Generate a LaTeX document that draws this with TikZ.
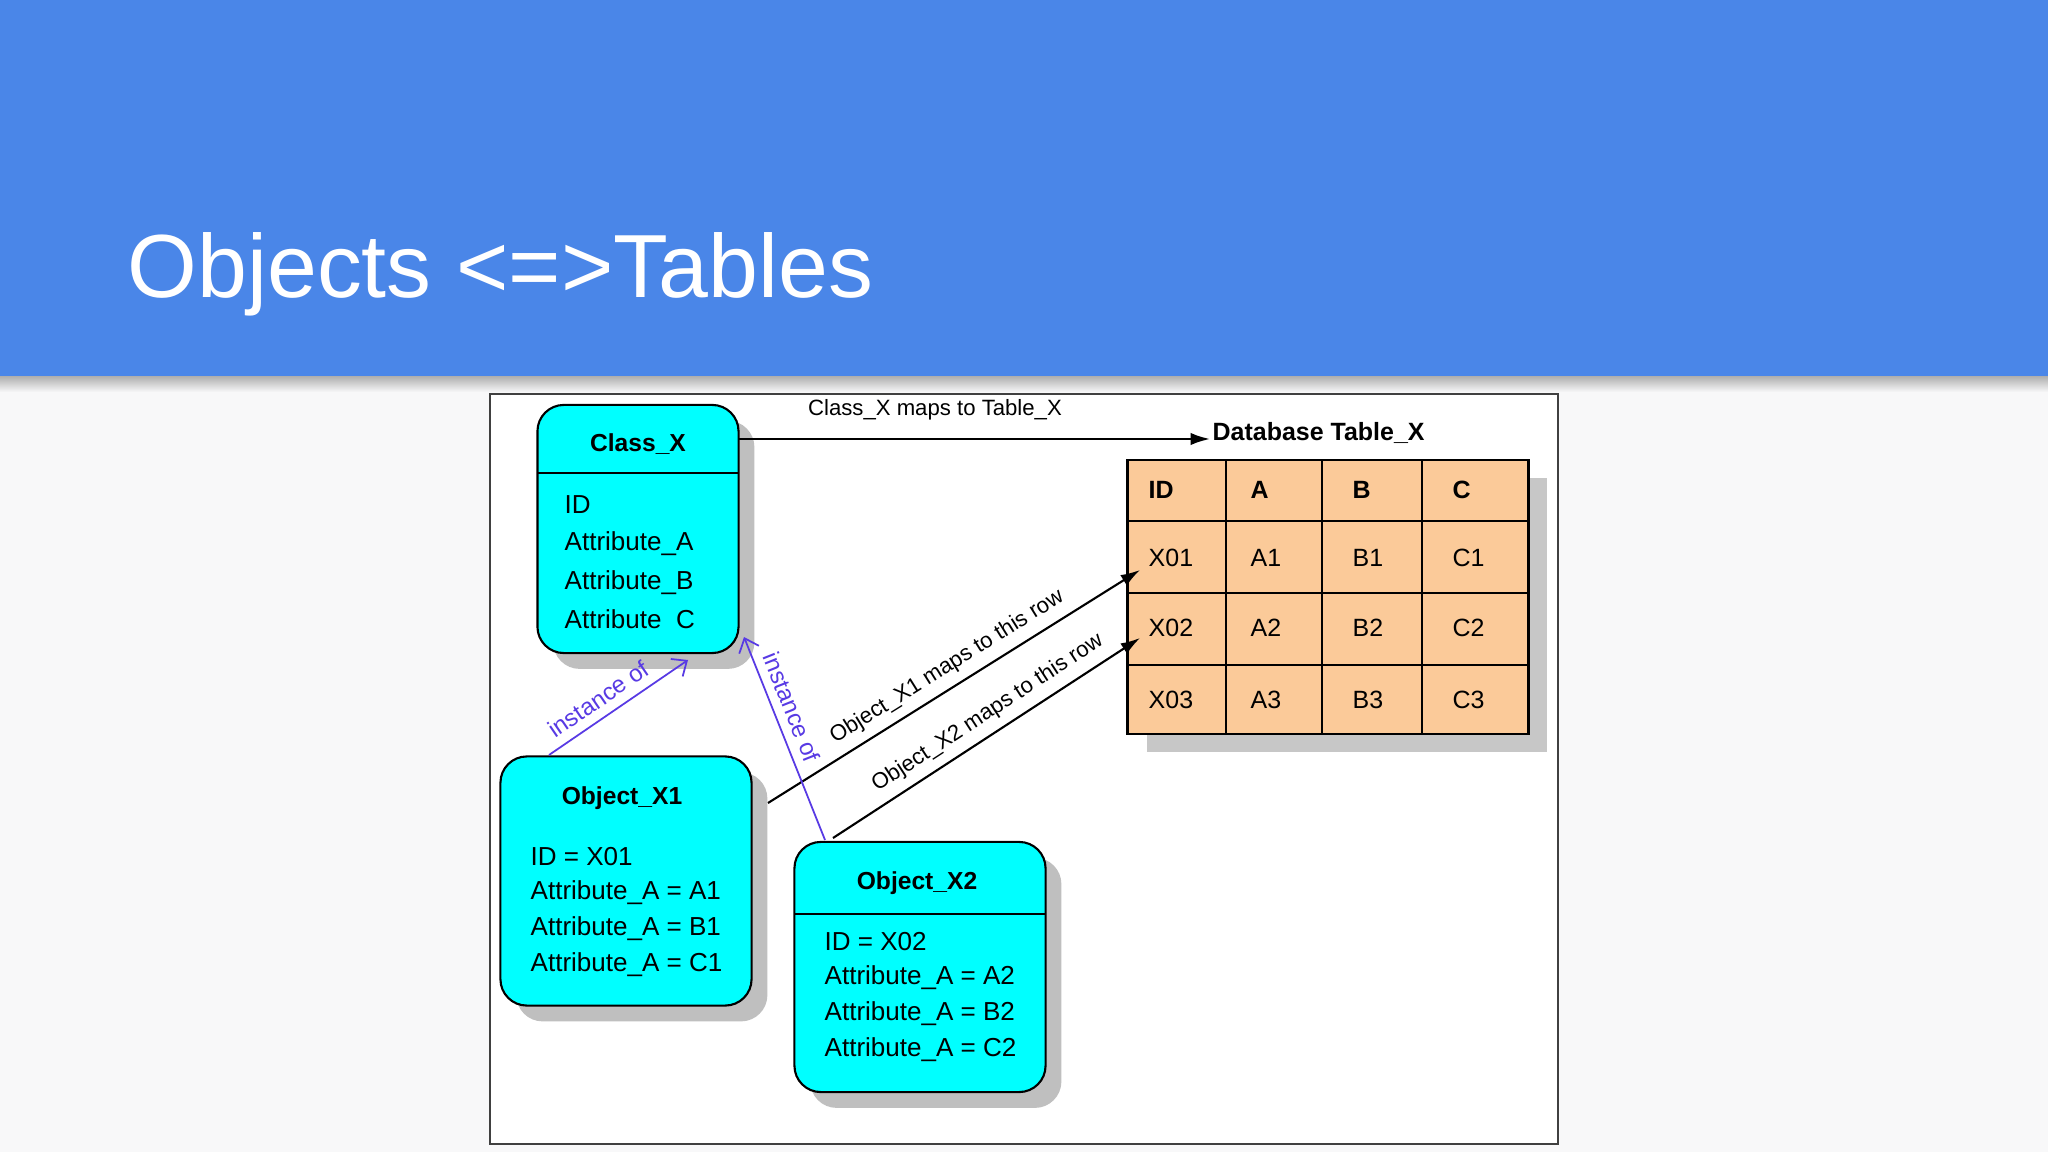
\documentclass[tikz,border=0pt]{standalone}
\usepackage{fontspec}
\setmainfont{Liberation Sans}
\usepackage{tikz}
\usetikzlibrary{arrows.meta,positioning,shadows}
\definecolor{slideblue}{HTML}{4A86E8}
\definecolor{slidebg}{HTML}{F8F8F9}
\definecolor{boxcyan}{RGB}{0,255,255}
\definecolor{peach}{RGB}{251,202,153}
\definecolor{instblue}{RGB}{88,58,228}

\begin{document}
\begin{tikzpicture}[x=0.01cm,y=-0.01cm,
  box/.style={draw,line width=0.6pt,fill=boxcyan,rounded corners=7.5pt,inner sep=0pt,
              drop shadow={shadow xshift=4.5pt,shadow yshift=-4.5pt,fill=black!25,opacity=1}},
  ttl/.style={font=\fontsize{7}{8}\selectfont\bfseries,inner sep=0pt},
  attr/.style={font=\fontsize{7.4}{9}\selectfont,anchor=west,inner sep=0pt},
  lbl/.style={font=\fontsize{6.3}{7}\selectfont,inner sep=2.5pt},
  cell/.style={font=\fontsize{7.1}{8}\selectfont,anchor=west,inner sep=0pt},
  arr/.style={-{Latex[length=5.5pt,width=3.5pt]},line width=0.6pt},
  inst/.style={-{Straight Barb[length=3.5pt,width=6pt]},instblue,line width=0.5pt}]
\useasboundingbox (0,0) rectangle (2048,1152);
% slide background and title bar
\fill[slidebg] (0,0) rectangle (2048,1152);
\fill[slideblue] (0,0) rectangle (2048,377);
\shade[top color=black!30,bottom color=slidebg] (0,377) rectangle (2048,392);
\node[anchor=base west,inner sep=0pt,text=white,font=\fontsize{25.5}{30}\selectfont]
  (title) at (127,298) {Objects <=>Tables};
\node[draw=black!75,line width=0.5pt,fill=white,minimum width=10.68cm,
      minimum height=7.5cm,inner sep=0pt] (frame) at (1024,769) {};
% class
\node[box,minimum width=2.01cm,minimum height=2.48cm] (classx) at (638,529) {};
\node[ttl] (classxt) at (638,444) {Class\_X};
\draw[line width=0.6pt] (538,473) -- (739,473);
\foreach \t [count=\i] in {ID,Attribute\_A,Attribute\_B,Attribute\phantom{\_}C}
  \node[attr] (cx\i) at (564,466+39*\i) {\t};
% objects
\node[box,minimum width=2.51cm,minimum height=2.49cm] (objx1) at (626,881) {};
\node[ttl] (objx1t) at (622,798) {Object\_X1};
\foreach \t [count=\i] in {ID = X01,Attribute\_A = A1,Attribute\_A = B1,Attribute\_A = C1}
  \node[attr] (ox1\i) at (530,821+36*\i) {\t};
\node[box,minimum width=2.51cm,minimum height=2.50cm] (objx2) at (920,967) {};
\node[ttl] (objx2t) at (917,883) {Object\_X2};
\draw[line width=0.6pt] (795,914) -- (1046,914);
\foreach \t [count=\i] in {ID = X02,Attribute\_A = A2,Attribute\_A = B2,Attribute\_A = C2}
  \node[attr] (ox2\i) at (824,906+36*\i) {\t};
% table
\node[draw,line width=0.8pt,fill=peach,minimum width=4cm,minimum height=2.74cm,inner sep=0pt,
      drop shadow={shadow xshift=5.4pt,shadow yshift=-5.1pt,fill=black!22,opacity=1}]
  (tab) at (1328,597) {};
\foreach \x in {1226,1322,1422} \draw[line width=0.8pt] (\x,460) -- (\x,734);
\foreach \y in {521,593,665} \draw[line width=0.8pt] (1128,\y) -- (1528,\y);
\foreach \c/\x in {ID/1148,A/1250,B/1352,C/1452}
  \node[cell,font=\fontsize{7.1}{8}\selectfont\bfseries] (h\c) at (\x,490) {\c};
\foreach \r/\y in {1/558,2/628,3/700}
  \foreach \c/\x in {X0/1148,A/1250,B/1352,C/1452}
    \node[cell] (\c\r) at (\x,\y) {\c\r};
\node[cell,font=\fontsize{7.1}{8}\selectfont\bfseries] (dbt) at (1212,433) {Database Table\_X};
% mappings
\coordinate (cxout) at (739,439);
\coordinate (dbin) at (1210,439);
\draw[arr] (cxout) -- (dbin);
\node[lbl] (maplbl) at (935,410) {Class\_X maps to Table\_X};
\coordinate (o1out) at (768,803);
\coordinate (row1) at (1140,570);
\draw[arr] (o1out) -- node[lbl,sloped,above,pos=0.51] (o1lbl) {Object\_X1 maps to this row} (row1);
\coordinate (o2out) at (833,838);
\coordinate (row2) at (1140,638);
\draw[arr] (o2out) -- node[lbl,sloped,above,pos=0.54] (o2lbl) {Object\_X2 maps to this row} (row2);
% instance of
\coordinate (i1s) at (549,755);
\coordinate (i1e) at (688,660);
\draw[inst] (i1s) -- node[lbl,sloped,above,pos=0.43,text=instblue,font=\fontsize{6.8}{7}\selectfont] (i1lbl) {instance of} (i1e);
\coordinate (i2s) at (825,840);
\coordinate (i2e) at (744,637);
\draw[inst] (i2s) -- node[lbl,sloped,above,pos=0.62,text=instblue,font=\fontsize{6.8}{7}\selectfont] (i2lbl) {instance of} (i2e);
\end{tikzpicture}
\end{document}
